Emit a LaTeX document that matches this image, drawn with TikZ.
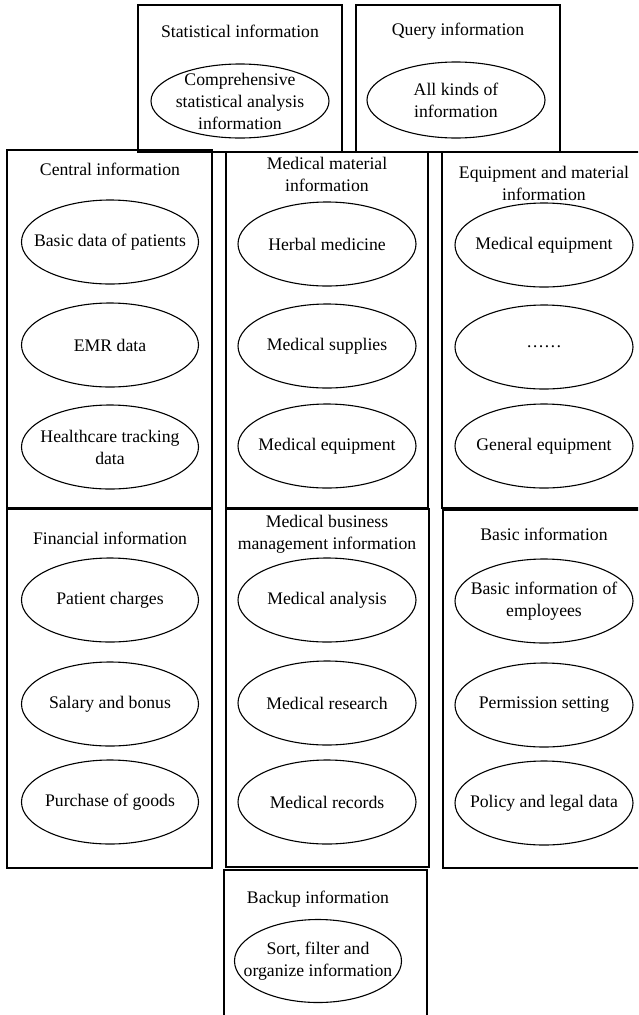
\documentclass[tikz,border=0pt]{standalone}
\usepackage{fontspec}
\setmainfont{Liberation Serif}
\usetikzlibrary{shapes.geometric}
\begin{document}
\begin{tikzpicture}[x=1pt,y=-1pt,
  every node/.style={font=\fontsize{17.7}{22}\selectfont, align=center, inner sep=0pt},
  panel/.style={draw, line width=1.2pt, rectangle, minimum width=#1},
  txt/.style={font=\fontsize{17.7}{22}\selectfont, align=center, inner sep=0pt},
  item/.style={draw, line width=1.1pt, ellipse, inner sep=0pt,
    minimum width=178pt, minimum height=84pt,
    label={[txt]center:#1}},
  title/.style={}]
\useasboundingbox (0,0) rectangle (638,1015);
\clip (0,0) rectangle (638,1015);

% top row
\node[panel=204pt, minimum height=147pt] (statbox) at (240,78.5) {};
\node[title] (stattitle) at (240,31) {Statistical information};
\node[item={Comprehensive\\statistical analysis\\information}, minimum height=74pt] (stat) at (240,101) {};

\node[panel=204pt, minimum height=147pt] (querybox) at (458,78.5) {};
\node[title] (querytitle) at (458,31) {Query information};
\node[item={All kinds of\\information}, minimum height=76pt] (query) at (456,100) {};

% middle row
\node[panel=205pt, minimum height=358pt] (centralbox) at (109.5,329) {};
\node[title] (centraltitle) at (110,169) {Central information};
\node[item={Basic data of patients}, minimum width=177pt] (c1) at (110,242) {};
\node[item={EMR data}, minimum width=177pt] (c2) at (110,345) {};
\node[item={Healthcare tracking\\data}, minimum width=177pt] (c3) at (110,447) {};

\node[panel=202pt, minimum height=356pt] (medmatbox) at (327,330) {};
\node[title] (medmattitle) at (327,174) {Medical material\\information};
\node[item={Herbal medicine}] (m1) at (327,244) {};
\node[item={Medical supplies}] (m2) at (327,346) {};
\node[item={Medical equipment}] (m3) at (327,446) {};

\node[panel=218pt, minimum height=356pt] (equipbox) at (551,330) {};
\node[title] (equiptitle) at (544,183) {Equipment and material\\information};
\node[item={Medical equipment}] (e1) at (544,245) {};
\node[item={\dots\dots}] (e2) at (544,347) {};
\node[item={General equipment}] (e3) at (544,446) {};

% lower row
\node[panel=205pt, minimum height=359pt] (finbox) at (109.5,688.5) {};
\node[title] (fintitle) at (110,538) {Financial information};
\node[item={Patient charges}, minimum width=177pt] (f1) at (110,600) {};
\node[item={Salary and bonus}, minimum width=177pt] (f2) at (110,704) {};
\node[item={Purchase of goods}, minimum width=177pt] (f3) at (110,802) {};

\node[panel=203pt, minimum height=358pt] (bizbox) at (327.5,688) {};
\node[title] (biztitle) at (327,534.5) {Medical business\\management information};
\node[item={Medical analysis}] (b1) at (327,600) {};
\node[item={Medical research}] (b2) at (327,703) {};
\node[item={Medical records}] (b3) at (327,802) {};

\node[panel=217pt, minimum height=358pt] (basicbox) at (551.5,689) {};
\node[title] (basictitle) at (544,534) {Basic information};
\node[item={Basic information of\\employees}] (s1) at (544,601) {};
\node[item={Permission setting}] (s2) at (544,705) {};
\node[item={Policy and legal data}] (s3) at (544,803) {};

% bottom
\node[panel=203pt, minimum height=160pt] (backupbox) at (325.5,950) {};
\node[title] (backuptitle) at (318,899) {Backup information};
\node[item={Sort, filter and\\organize information}, minimum width=167pt, minimum height=83pt] (backup) at (318,961) {};
\end{tikzpicture}
\end{document}
